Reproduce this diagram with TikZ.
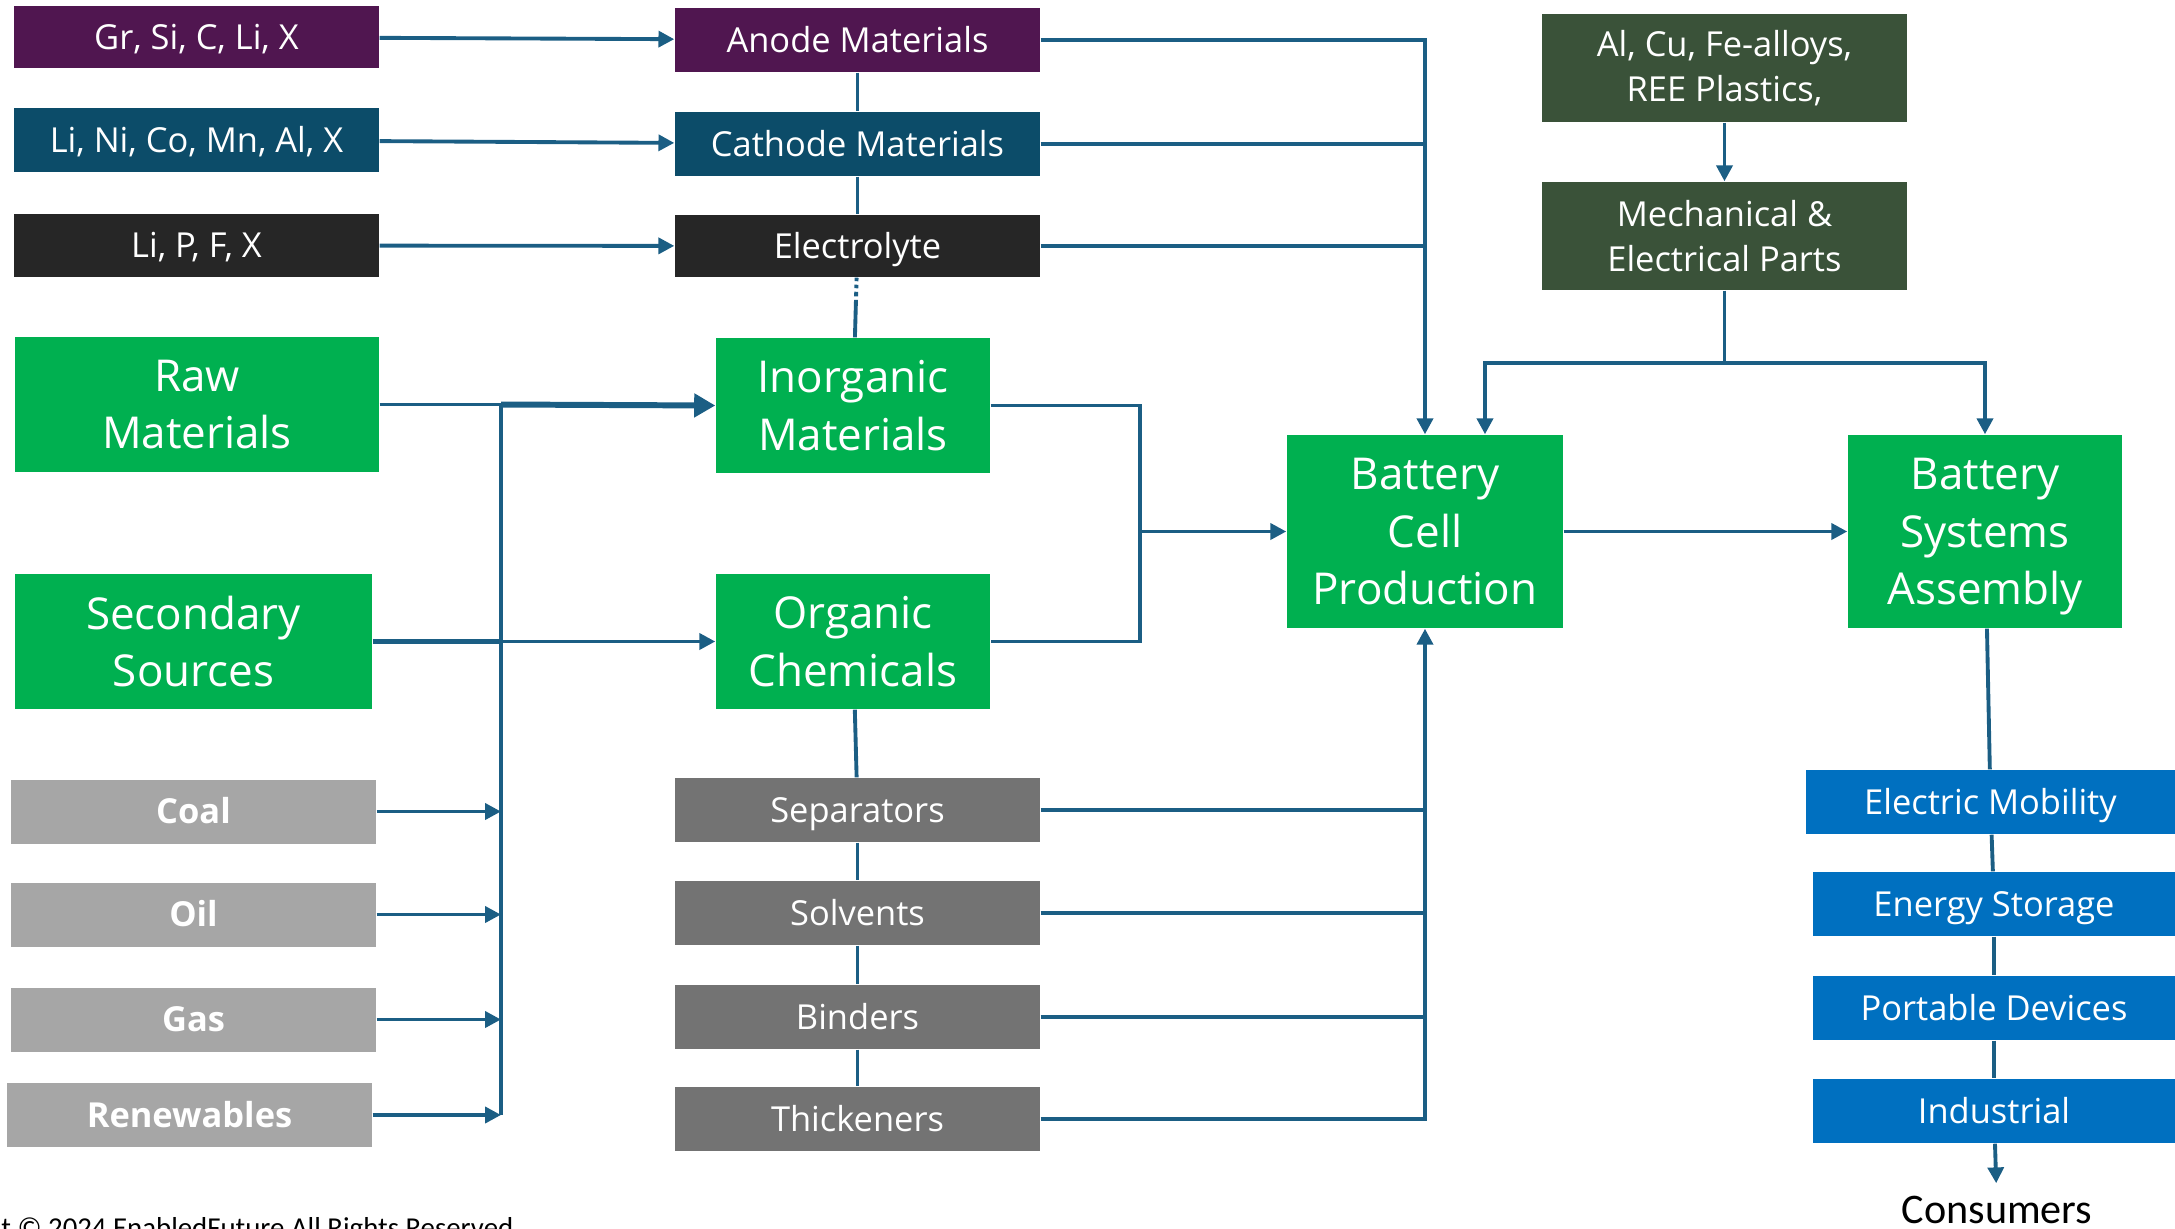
\documentclass[tikz,border=0pt]{standalone}
\usepackage{fontspec}
\setmainfont{Open Sans}
\newfontfamily\notefont{Carlito}
\usetikzlibrary{arrows.meta}

\definecolor{LinkBlue}{HTML}{1B5E84}
\definecolor{AnodePurple}{HTML}{501650}
\definecolor{CathodeTeal}{HTML}{0C4C69}
\definecolor{ElectroBlack}{HTML}{262626}
\definecolor{MainGreen}{HTML}{00B050}
\definecolor{FossilGray}{HTML}{A6A6A6}
\definecolor{OrganicGray}{HTML}{737373}
\definecolor{PartsGreen}{HTML}{3A5239}
\definecolor{UseBlue}{HTML}{0070C0}

\tikzset{
	box/.style={fill=#1, text=white, inner sep=0pt, align=center, font=\fontsize{9.8}{12.6}\selectfont},
	smallbox/.style={box=#1, minimum width=3.65cm, minimum height=0.64cm, text height=0.9em, text depth=0.19em},
	partsbox/.style={box=#1, minimum width=3.65cm, minimum height=1.08cm},
	bigbox/.style={box=#1, minimum height=1.35cm, text depth=0pt, font=\fontsize{12.5}{16.3}\selectfont},
	fossil/.style={smallbox=FossilGray, font=\fontsize{9.8}{12.6}\selectfont\bfseries},
	link/.style={draw=LinkBlue, line width=1.1pt},
	arr/.style={link, -{Triangle[length=4.5pt,width=4.5pt]}}
}

\begin{document}
\begin{tikzpicture}
	\useasboundingbox (0,0) rectangle (21.75,-12.29);
	\clip (0,0) rectangle (21.75,-12.29);

	% Define sources
	\node[smallbox=AnodePurple, minimum height=0.62cm] (GrSi) at (1.965,-0.37) {Gr, Si, C, Li, X};
	\node[smallbox=CathodeTeal] (LiNi) at (1.965,-1.40) {Li, Ni, Co, Mn, Al, X};
	\node[smallbox=ElectroBlack, minimum height=0.63cm] (LiP) at (1.965,-2.455) {Li, P, F, X};
	\node[bigbox=MainGreen, minimum width=3.64cm] (Raw) at (1.97,-4.045) {Raw\\Materials};
	\node[bigbox=MainGreen, minimum width=3.57cm] (Secondary) at (1.935,-6.415) {Secondary\\Sources};
	\node[fossil] (Coal) at (1.935,-8.115) {Coal};
	\node[fossil] (Oil) at (1.935,-9.145) {Oil};
	\node[fossil] (Gas) at (1.935,-10.195) {Gas};
	\node[fossil] (Renewables) at (1.895,-11.15) {Renewables};

	% Define materials
	\node[smallbox=AnodePurple] (Anode) at (8.575,-0.40) {Anode Materials};
	\node[smallbox=CathodeTeal] (Cathode) at (8.575,-1.44) {Cathode Materials};
	\node[smallbox=ElectroBlack, minimum height=0.62cm] (Electrolyte) at (8.575,-2.46) {Electrolyte};
	\node[bigbox=MainGreen, minimum width=2.74cm] (Inorganic) at (8.53,-4.055) {Inorganic\\Materials};
	\node[bigbox=MainGreen, minimum width=2.74cm] (Organic) at (8.53,-6.415) {Organic\\Chemicals};
	\node[smallbox=OrganicGray] (Separators) at (8.575,-8.10) {Separators};
	\node[smallbox=OrganicGray] (Solvents) at (8.575,-9.13) {Solvents};
	\node[smallbox=OrganicGray] (Binders) at (8.575,-10.17) {Binders};
	\node[smallbox=OrganicGray] (Thickeners) at (8.575,-11.19) {Thickeners};

	% Define production
	\node[bigbox=MainGreen, minimum width=2.76cm, minimum height=1.93cm] (Cell) at (14.25,-5.315) {Battery\\Cell\\Production};
	\node[bigbox=MainGreen, minimum width=2.74cm, minimum height=1.93cm] (Systems) at (19.85,-5.315) {Battery\\Systems\\Assembly};
	\node[partsbox=PartsGreen] (Metals) at (17.245,-0.68) {Al, Cu, Fe-alloys,\\REE Plastics,};
	\node[partsbox=PartsGreen] (Parts) at (17.245,-2.36) {Mechanical \&\\Electrical Parts};

	% Define uses
	\node[smallbox=UseBlue, minimum width=3.69cm] (Mobility) at (19.905,-8.02) {Electric Mobility};
	\node[smallbox=UseBlue, minimum width=3.62cm] (Storage) at (19.94,-9.04) {Energy Storage};
	\node[smallbox=UseBlue, minimum width=3.62cm] (Portable) at (19.94,-10.08) {Portable Devices};
	\node[smallbox=UseBlue, minimum width=3.62cm] (Industrial) at (19.94,-11.11) {Industrial};
	\node[anchor=base, font=\notefont\fontsize{12}{14}\selectfont] (Consumers) at (19.97,-12.23) {Consumers};
	\node[anchor=base east, inner sep=0pt, font=\notefont\fontsize{8.2}{9}\selectfont] (Copyright) at (5.14,-12.37) {Copyright © 2024 EnabledFuture All Rights Reserved};

	% Left bus
	\coordinate (Bus) at (5.01,0);
	\draw[link] (Raw.east -| Bus) -- (Renewables.east -| Bus);
	\draw[arr] (Coal.east) -- (Coal.east -| Bus);
	\draw[arr] (Oil.east) -- (Oil.east -| Bus);
	\draw[arr] (Gas.east) -- (Gas.east -| Bus);
	\draw[arr] (Renewables.east) -- (Renewables.east -| Bus);
	\draw[link] (Raw.east) -- (Raw.east -| Bus);
	\draw[link, line width=1.7pt, -{Triangle[length=6pt,width=6.5pt]}] (Raw.east -| Bus) -- (Inorganic.west);
	\draw[link, line width=1.7pt] (Secondary.east) -- (Secondary.east -| Bus);
	\draw[arr] (Secondary.east -| Bus) -- (Organic.west);

	% Sources to materials
	\draw[arr] (GrSi) -- (Anode);
	\draw[arr] (LiNi) -- (Cathode);
	\draw[arr] (LiP) -- (Electrolyte);

	% Middle column
	\draw[link] (Anode) -- (Cathode);
	\draw[link] (Cathode) -- (Electrolyte);
	\draw[link, dash pattern=on 1pt off 1pt on 1pt off 1pt on 1.3pt off 1pt on 30pt off 0pt] (Electrolyte) -- (Inorganic);
	\draw[link] (Organic) -- (Separators);
	\draw[link] (Separators) -- (Solvents);
	\draw[link] (Solvents) -- (Binders);
	\draw[link] (Binders) -- (Thickeners);

	% Into cell production
	\draw[arr] (Anode.east) -| (Cell.north);
	\draw[link] (Cathode.east) -- (Cathode.east -| Cell.north);
	\draw[link] (Electrolyte.east) -- (Electrolyte.east -| Cell.north);
	\coordinate (Join) at (11.40,-5.315);
	\draw[link] (Inorganic.east) -| (Join) |- (Organic.east);
	\draw[arr] (Join) -- (Cell.west);
	\draw[arr] (Thickeners.east) -| (Cell.south);
	\draw[link] (Separators.east) -- (Separators.east -| Cell.south);
	\draw[link] (Solvents.east) -- (Solvents.east -| Cell.south);
	\draw[link] (Binders.east) -- (Binders.east -| Cell.south);

	% Parts
	\draw[arr] (Metals) -- (Parts);
	\coordinate (Split) at (17.245,-3.63);
	\draw[link] (Parts) -- (Split);
	\draw[arr] (Split) -| ([xshift=0.6cm]Cell.north);
	\draw[arr] (Split) -| (Systems.north);

	% Assembly and uses
	\draw[arr] (Cell) -- (Systems);
	\draw[link] (Systems) -- (Mobility);
	\draw[link] (Mobility) -- (Storage);
	\draw[link] (Storage) -- (Portable);
	\draw[link] (Portable) -- (Industrial);
	\draw[arr] (Industrial) -- (Consumers);
\end{tikzpicture}
\end{document}
